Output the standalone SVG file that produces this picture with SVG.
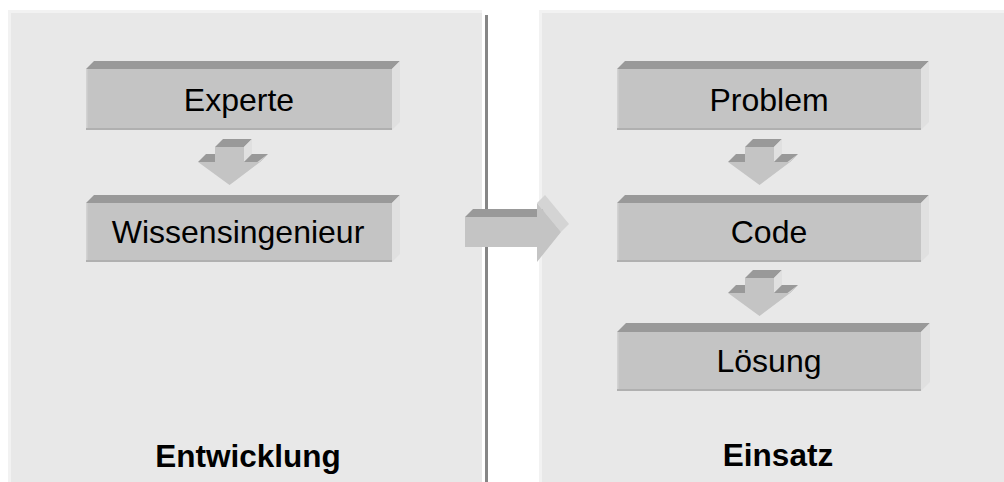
<svg xmlns="http://www.w3.org/2000/svg" width="1004" height="482" viewBox="0 0 1004 482">
  <style>
    .panel-edge { fill: #f2f2f2; }
    .panel { fill: #e8e8e8; }
    .front { fill: #c4c4c4; }
    .top { fill: #999999; }
    .side { fill: #e0e0e0; }
    .base { fill: #b0b0b0; }
    .hi { fill: #d2d2d2; }
    .head-top { fill: #d4d4d4; }
    .label { font-family: "Liberation Sans", Arial, sans-serif; font-size: 32px; fill: #000; text-anchor: middle; }
    .title { font-family: "Liberation Sans", Arial, sans-serif; font-size: 31.5px; font-weight: bold; fill: #000; text-anchor: middle; }
  </style>
  <defs>
    <!-- 3D down arrow, origin at top-left corner of the shaft's front face -->
    <g id="arrow-down">
      <polygon class="top" points="-17,15 -9,7 37,7 29,15"/>
      <polygon class="top" points="0,0 8,-8 37,-8 29,0"/>
      <polygon class="side" points="29,0 37,-8 37,7 29,15"/>
      <polygon class="top" points="29,15 37,7 53,7 45,15"/>
      <polygon class="head-top" points="45,15 53,7 22.5,30 14.5,38"/>
      <polygon class="front" points="0,0 29,0 29,15 45,15 14.5,38 -17,15 0,15"/>
    </g>
  </defs>

  <rect width="1004" height="482" fill="#ffffff"/>

  <!-- two stage panels -->
  <g id="panel-entwicklung">
    <rect class="panel-edge" x="8" y="10" width="474" height="472"/>
    <rect class="panel" x="11" y="13" width="471" height="469"/>
    <text class="title" x="248" y="467">Entwicklung</text>
  </g>
  <g id="panel-einsatz">
    <rect class="panel-edge" x="539" y="10" width="465" height="472"/>
    <rect class="panel" x="542" y="13" width="462" height="469"/>
    <text class="title" x="778" y="466">Einsatz</text>
  </g>
  <rect id="divider" x="485" y="15" width="3" height="467" fill="#868686"/>

  <!-- nodes: 3D blocks -->
  <g id="node-experte">
    <polygon class="top" points="86,69 94,61 400,61 392,69"/>
    <polygon class="side" points="392,69 400,61 400,122 392,130"/>
    <rect class="front" x="86" y="69" width="306" height="61"/>
    <rect class="hi" x="86" y="69" width="1.5" height="61"/>
    <rect class="base" x="86" y="128" width="306" height="2"/>
    <text class="label" x="239" y="111">Experte</text>
  </g>
  <g id="node-wissensingenieur">
    <polygon class="top" points="86,203 94,195 400,195 392,203"/>
    <polygon class="side" points="392,203 400,195 400,254 392,262"/>
    <rect class="front" x="86" y="203" width="306" height="59"/>
    <rect class="hi" x="86" y="203" width="1.5" height="59"/>
    <rect class="base" x="86" y="260" width="306" height="2"/>
    <text class="label" x="238" y="243">Wissensingenieur</text>
  </g>
  <g id="node-problem">
    <polygon class="top" points="617,69 625,61 929,61 921,69"/>
    <polygon class="side" points="921,69 929,61 929,122 921,130"/>
    <rect class="front" x="617" y="69" width="304" height="61"/>
    <rect class="hi" x="617" y="69" width="1.5" height="61"/>
    <rect class="base" x="617" y="128" width="304" height="2"/>
    <text class="label" x="769" y="111">Problem</text>
  </g>
  <g id="node-code">
    <polygon class="top" points="617,203 625,195 929,195 921,203"/>
    <polygon class="side" points="921,203 929,195 929,254 921,262"/>
    <rect class="front" x="617" y="203" width="304" height="59"/>
    <rect class="hi" x="617" y="203" width="1.5" height="59"/>
    <rect class="base" x="617" y="260" width="304" height="2"/>
    <text class="label" x="769" y="243">Code</text>
  </g>
  <g id="node-loesung">
    <polygon class="top" points="617,332 626,323 930,323 921,332"/>
    <polygon class="side" points="921,332 930,323 930,382 921,391"/>
    <rect class="front" x="617" y="332" width="304" height="59"/>
    <rect class="hi" x="617" y="332" width="1.5" height="59"/>
    <rect class="base" x="617" y="389" width="304" height="2"/>
    <text class="label" x="769" y="372">Lösung</text>
  </g>

  <!-- connectors -->
  <g id="connectors">
    <use href="#arrow-down" transform="translate(215,147)"/>
    <use href="#arrow-down" transform="translate(745,147)"/>
    <use href="#arrow-down" transform="translate(745,278)"/>
    <!-- stage transition arrow -->
    <g id="arrow-right">
      <polygon class="top" points="465,217 473,209 545,209 537,217"/>
      <polygon class="head-top" points="537,203 545,195 569,224 561,232"/>
      <polygon class="front" points="465,217 537,217 537,203 561,232 537,262 537,247 465,247"/>
    </g>
  </g>
</svg>
